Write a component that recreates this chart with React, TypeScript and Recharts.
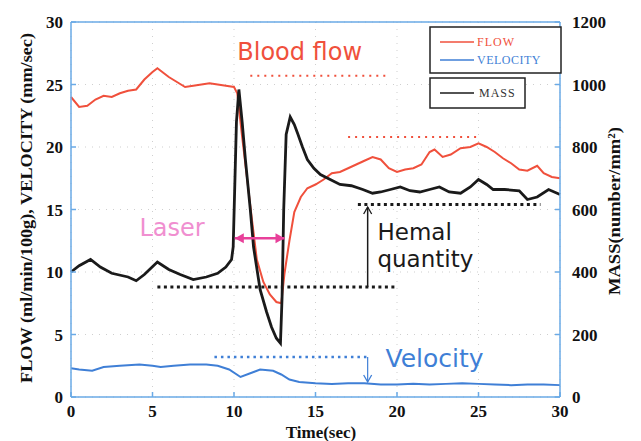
import {
    LineChart,
    Line,
    XAxis,
    YAxis,
    CartesianGrid,
    ReferenceLine,
    ReferenceDot,
} from 'recharts';

// axis ticks
const timeTicks = [0, 5, 10, 15, 20, 25, 30];
const flowTicks = [0, 5, 10, 15, 20, 25, 30];
const massTicks = [0, 200, 400, 600, 800, 1000, 1200];

// FLOW (ml/min/100g)
const flowTime = [0, 0.5, 1, 1.5, 2, 2.5, 3, 3.5, 4, 4.5, 5, 5.3, 5.7, 6, 6.5, 7, 7.5, 8, 8.5, 9, 9.5, 10, 10.2, 10.5, 10.8, 11.1, 11.4, 11.8, 12.2, 12.6, 12.9, 13.1, 13.4, 13.7, 14.1, 14.5, 15, 15.5, 16, 16.5, 17, 17.5, 18, 18.5, 19, 19.5, 20, 20.5, 21, 21.5, 22, 22.3, 22.8, 23.3, 23.9, 24.5, 25, 25.5, 26, 26.5, 27, 27.5, 28, 28.6, 29, 29.5, 30];
const flowValue = [24, 23.2, 23.3, 23.8, 24.1, 24.0, 24.3, 24.5, 24.6, 25.4, 26.0, 26.3, 25.9, 25.6, 25.2, 24.8, 24.9, 25.0, 25.1, 25.0, 24.9, 24.8, 24.3, 20.8, 17.5, 14.2, 11.0, 9.2, 8.2, 7.6, 7.5, 9.9, 12.5, 14.8, 16.0, 16.7, 17.0, 17.4, 17.9, 18.0, 18.3, 18.6, 18.9, 19.2, 19.0, 18.3, 18.0, 18.2, 18.3, 18.6, 19.6, 19.8, 19.2, 19.4, 19.9, 20.0, 20.3, 20.0, 19.6, 19.1, 18.7, 18.2, 18.1, 18.5, 17.9, 17.6, 17.5];

// MASS (number/mm2)
const massTime = [0, 0.5, 1.2, 1.8, 2.5, 3.5, 4, 4.5, 5.3, 6, 6.7, 7.5, 8.3, 9, 9.5, 9.85, 9.95, 10.15, 10.3, 10.5, 10.7, 11, 11.2, 11.6, 12, 12.3, 12.6, 12.85, 12.95, 13.05, 13.2, 13.45, 13.7, 13.9, 14.2, 14.5, 14.9, 15.3, 15.9, 16.5, 17.2, 17.9, 18.5, 19, 19.6, 20.2, 20.8, 21.4, 22, 22.6, 23.2, 23.9, 24.5, 25, 25.5, 25.9, 26.6, 27.5, 28, 28.6, 29.3, 30];
const massValue = [400, 420, 440, 416, 396, 384, 372, 392, 432, 408, 392, 376, 384, 396, 416, 440, 480, 880, 984, 880, 760, 600, 480, 344, 272, 224, 188, 172, 320, 600, 840, 896, 872, 844, 800, 760, 732, 712, 696, 680, 676, 664, 652, 656, 664, 672, 660, 656, 664, 672, 656, 652, 672, 696, 680, 664, 664, 660, 632, 640, 664, 648];

// VELOCITY (mm/sec)
const velocityTime = [0, 0.5, 1.3, 2, 3, 4.2, 5, 5.5, 6.3, 7.3, 8.3, 9, 9.7, 10.4, 11, 11.6, 12.4, 12.9, 13.4, 14, 15, 16, 17, 18, 19, 20, 21, 22, 23, 24, 25, 26, 27, 28, 29, 30];
const velocityValue = [2.3, 2.2, 2.1, 2.4, 2.5, 2.6, 2.5, 2.4, 2.5, 2.6, 2.6, 2.5, 2.2, 1.6, 1.9, 2.2, 2.1, 1.8, 1.4, 1.2, 1.1, 1.05, 1.1, 1.1, 1.0, 1.0, 1.05, 1.0, 1.05, 1.1, 1.05, 1.0, 0.95, 1.0, 1.0, 0.95];

const zip = (ts: number[], vs: number[]) => ts.map((t, i) => ({ t, v: vs[i] }));
const flowData = zip(flowTime, flowValue);
const massData = zip(massTime, massValue);
const velocityData = zip(velocityTime, velocityValue);

const RED = '#f0503c';
const BLUE = '#3f7fd6';
const BLACK = '#1a1a1a';
const PINK = '#e8409a';
const AXIS = '#6aaae6';
const SERIF = '"Liberation Serif", "DejaVu Serif", serif';
const SANS = '"DejaVu Sans", "Open Sans", sans-serif';

const headPoints = (xa: number, ya: number, xb: number, yb: number, len: number, half: number) => {
    const ang = Math.atan2(yb - ya, xb - xa);
    const bx = xb - len * Math.cos(ang);
    const by = yb - len * Math.sin(ang);
    const px = -Math.sin(ang) * half;
    const py = Math.cos(ang) * half;
    return `${bx + px},${by + py} ${xb},${yb} ${bx - px},${by - py}`;
};

const arrowShape = (color: string, width: number, both: boolean, open: boolean) => (p: any) => {
    const { x1, y1, x2, y2 } = p;
    const heads = [headPoints(x1, y1, x2, y2, open ? 7 : 9, open ? 4 : 5)];
    if (both) heads.push(headPoints(x2, y2, x1, y1, 9, 5));
    return (
        <g>
            <line x1={x1} y1={y1} x2={x2} y2={y2} stroke={color} strokeWidth={width} />
            {heads.map((h, i) =>
                open ? (
                    <polyline key={i} points={h} fill="none" stroke={color} strokeWidth={1.3} />
                ) : (
                    <polygon key={i} points={h} fill={color} />
                )
            )}
        </g>
    );
};

const textShape = (label: string, color: string, size: number) => (p: any) => (
    <text x={p.cx} y={p.cy} fill={color} fontSize={size} fontFamily={SANS}>
        {label}
    </text>
);

const tickStyle = { fill: '#111', fontSize: 17, fontWeight: 'bold', fontFamily: SERIF };

export default function App() {
    return (
        <div style={{ position: 'absolute', left: 0, top: 0, width: 641, height: 441, background: '#fff' }}>
            <LineChart width={641} height={441} margin={{ top: 22, right: 31, bottom: 0, left: 21 }}>
                <CartesianGrid yAxisId="l" stroke="#cfcfcf" strokeDasharray="1 6" />
                <XAxis
                    dataKey="t"
                    type="number"
                    domain={[0, 30]}
                    ticks={timeTicks}
                    height={44}
                    allowDuplicatedCategory={false}
                    stroke={AXIS}
                    strokeWidth={1.5}
                    tickSize={-5}
                    tickMargin={13}
                    tick={tickStyle}
                />
                <YAxis
                    yAxisId="l"
                    domain={[0, 30]}
                    ticks={flowTicks}
                    width={50}
                    stroke={AXIS}
                    strokeWidth={1.5}
                    tickSize={-5}
                    tickMargin={13}
                    tick={tickStyle}
                />
                <YAxis
                    yAxisId="r"
                    orientation="right"
                    domain={[0, 1200]}
                    ticks={massTicks}
                    width={50}
                    stroke={AXIS}
                    strokeWidth={1.5}
                    tickSize={-5}
                    tickMargin={17}
                    tick={{ ...tickStyle, textAnchor: 'start' }}
                />
                <ReferenceLine yAxisId="l" y={30} stroke={AXIS} strokeWidth={1.5} />

                {/* annotation guides */}
                <ReferenceLine yAxisId="l" segment={[{ x: 11, y: 25.7 }, { x: 19.3, y: 25.7 }]} stroke={RED} strokeWidth={2} strokeDasharray="2 5" />
                <ReferenceLine yAxisId="l" segment={[{ x: 17, y: 20.8 }, { x: 25.1, y: 20.8 }]} stroke={RED} strokeWidth={2} strokeDasharray="2 5" />
                <ReferenceLine yAxisId="l" segment={[{ x: 5.3, y: 8.8 }, { x: 20, y: 8.8 }]} stroke={BLACK} strokeWidth={3} strokeDasharray="3 3.5" />
                <ReferenceLine yAxisId="l" segment={[{ x: 17.6, y: 15.4 }, { x: 28.8, y: 15.4 }]} stroke={BLACK} strokeWidth={3} strokeDasharray="3 3.5" />
                <ReferenceLine yAxisId="l" segment={[{ x: 8.8, y: 3.2 }, { x: 18.2, y: 3.2 }]} stroke={BLUE} strokeWidth={2.5} strokeDasharray="2.5 4" />

                <Line data={flowData} yAxisId="l" dataKey="v" type="linear" stroke={RED} strokeWidth={2} dot={false} isAnimationActive={false} />
                <Line data={velocityData} yAxisId="l" dataKey="v" type="linear" stroke={BLUE} strokeWidth={2} dot={false} isAnimationActive={false} />
                <Line data={massData} yAxisId="r" dataKey="v" type="linear" stroke={BLACK} strokeWidth={2.8} dot={false} isAnimationActive={false} />

                {/* arrows */}
                <ReferenceLine yAxisId="l" segment={[{ x: 18.2, y: 8.8 }, { x: 18.2, y: 15.2 }]} shape={arrowShape(BLACK, 1.5, false, true)} />
                <ReferenceLine yAxisId="l" segment={[{ x: 18.2, y: 3.2 }, { x: 18.2, y: 1.2 }]} shape={arrowShape(BLUE, 1.2, false, true)} />
                <ReferenceLine yAxisId="l" segment={[{ x: 10.05, y: 12.7 }, { x: 13.1, y: 12.7 }]} shape={arrowShape(PINK, 2.5, true, false)} />

                {/* annotation texts */}
                <ReferenceDot yAxisId="l" x={10.2} y={27} r={0} shape={textShape('Blood flow', RED, 24)} />
                <ReferenceDot yAxisId="l" x={4.2} y={12.9} r={0} shape={textShape('Laser', '#f08fd0', 24)} />
                <ReferenceDot yAxisId="l" x={18.8} y={12.6} r={0} shape={textShape('Hemal', BLACK, 23)} />
                <ReferenceDot yAxisId="l" x={18.8} y={10.4} r={0} shape={textShape('quantity', BLACK, 23)} />
                <ReferenceDot yAxisId="l" x={19.3} y={2.4} r={0} shape={textShape('Velocity', BLUE, 25)} />
            </LineChart>

            <svg width={641} height={441} style={{ position: 'absolute', left: 0, top: 0, pointerEvents: 'none' }}>
                {/* axis titles */}
                <text
                    transform="translate(26,208) rotate(-90)"
                    textAnchor="middle"
                    dominantBaseline="central"
                    fontFamily={SERIF}
                    fontWeight="bold"
                    fontSize={17}
                    fill="#111"
                    textLength={350}
                    lengthAdjust="spacingAndGlyphs"
                >
                    FLOW (ml/min/100g), VELOCITY (mm/sec)
                </text>
                <text
                    transform="translate(614,211) rotate(-90)"
                    textAnchor="middle"
                    dominantBaseline="central"
                    fontFamily={SERIF}
                    fontWeight="bold"
                    fontSize={17}
                    fill="#111"
                    textLength={168}
                    lengthAdjust="spacingAndGlyphs"
                >
                    MASS(number/mm²)
                </text>
                <text x={321} y={438} textAnchor="middle" fontFamily={SERIF} fontWeight="bold" fontSize={17} fill="#111">
                    Time(sec)
                </text>

                {/* legend */}
                <rect x={430} y={27} width={131} height={46} fill="#fff" stroke="#222" strokeWidth={1.5} />
                <line x1={440} y1={42} x2={474} y2={42} stroke={RED} strokeWidth={1.5} />
                <text x={477} y={46} fontFamily={SERIF} fontSize={12} fill={RED} letterSpacing={1}>FLOW</text>
                <line x1={440} y1={60} x2={474} y2={60} stroke={BLUE} strokeWidth={1.5} />
                <text x={477} y={64} fontFamily={SERIF} fontSize={12} fill={BLUE} letterSpacing={0.5}>VELOCITY</text>
                <rect x={430} y={78} width={95} height={30} fill="#fff" stroke="#222" strokeWidth={1.5} />
                <line x1={440} y1={93} x2={474} y2={93} stroke={BLACK} strokeWidth={1.5} />
                <text x={479} y={97} fontFamily={SERIF} fontSize={12} fill="#333" letterSpacing={1}>MASS</text>
            </svg>
        </div>
    );
}
